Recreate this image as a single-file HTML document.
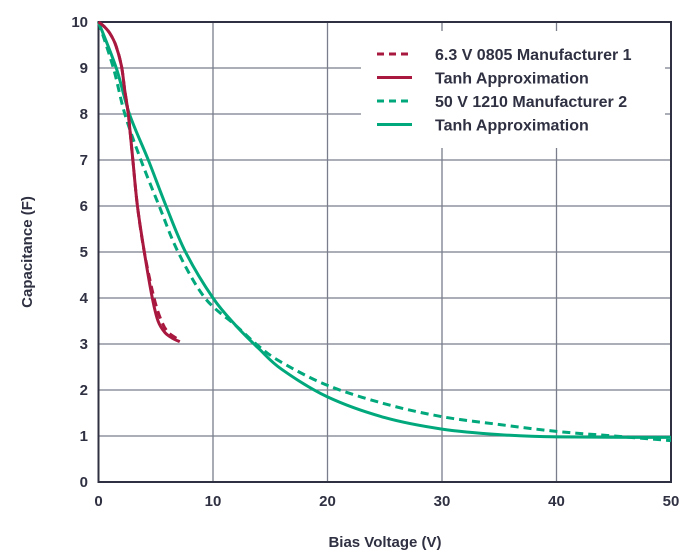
<!DOCTYPE html>
<html><head><meta charset="utf-8"><style>
body{margin:0;background:#fff;}
svg{display:block;font-family:"Liberation Sans",sans-serif;}
</style></head><body>
<svg id="c" width="691" height="558"></svg>
<script>
const xTicks=[0,10,20,30,40,50];
const yTicks=[0,1,2,3,4,5,6,7,8,9,10];
const red1X=[0,0.5,1,1.5,2,2.3,2.6,3,3.4,4,4.85,5.5,6.1,7.1];
const red1Y=[10,9.9,9.75,9.5,9.05,8.5,8,7,6,5,4,3.5,3.25,3.08];
const red2X=[0,0.5,1,1.5,2,2.3,2.6,3,3.4,4,4.7,5.2,5.8,6.5,7.1];
const red2Y=[10,9.9,9.75,9.5,9.05,8.5,8,7,6,5,4,3.5,3.25,3.12,3.05];
const grn1X=[0,1.3,2.3,3.7,5.3,6.95,9.3,12,14,16,20,25,30,35,40,45,50];
const grn1Y=[10,9,8,7,6,5,4,3.4,2.95,2.6,2.1,1.7,1.42,1.25,1.1,1.0,0.9];
const grn2X=[0,1.55,2.7,4.35,5.9,7.6,10,12,14,16,20,25,30,35,40,50];
const grn2Y=[10,9,8,7,6,5,4,3.4,2.9,2.45,1.85,1.4,1.15,1.03,0.98,0.97];
const X0=98.5,X1=671,Y0=482,Y1=22;
const sx=v=>X0+(X1-X0)*v/50, sy=v=>Y0-(Y0-Y1)*v/10;
const s=document.getElementById('c'),NS='http://www.w3.org/2000/svg';
function el(t,a,p){const e=document.createElementNS(NS,t);for(const k in a)e.setAttribute(k,a[k]);(p||s).appendChild(e);return e;}
for(const t of xTicks){const l=el('line',{x1:sx(t),x2:sx(t),y1:Y1,y2:Y0,stroke:'#7a7e8c','stroke-width':1.3});


const tx=el('text',{x:sx(t),y:506,'text-anchor':'middle','font-size':15,'font-weight':'bold',fill:'#2f3142'});tx.textContent=t;

}
for(const t of yTicks){const l=el('line',{x1:X0,x2:X1,y1:sy(t),y2:sy(t),stroke:'#7a7e8c','stroke-width':1.3});


const tx=el('text',{x:88,y:sy(t)+5,'text-anchor':'end','font-size':15,'font-weight':'bold',fill:'#2f3142'});tx.textContent=t;

}
const fr=el('rect',{x:X0,y:Y1,width:X1-X0,height:Y0-Y1,fill:'none',stroke:'#2f3142','stroke-width':2});


const lg=el('rect',{x:361,y:31,width:304,height:117,fill:'#fff'});


function smooth(pts){let d='M'+pts[0][0]+','+pts[0][1];
for(let i=0;i<pts.length-1;i++){const p0=pts[Math.max(0,i-1)],p1=pts[i],p2=pts[i+1],p3=pts[Math.min(pts.length-1,i+2)];
const c1=[p1[0]+(p2[0]-p0[0])/6,p1[1]+(p2[1]-p0[1])/6],c2=[p2[0]-(p3[0]-p1[0])/6,p2[1]-(p3[1]-p1[1])/6];
d+=' C'+c1.join(',')+' '+c2.join(',')+' '+p2.join(',');}return d;}
function line(xs,ys,c,d,n){const pts=xs.map((x,i)=>[sx(x),sy(ys[i])]);
const p=el('path',{d:smooth(pts),fill:'none',stroke:c,'stroke-width':3,'stroke-dasharray':d?'8,5':'none','stroke-linejoin':'round'});

}
line(grn1X,grn1Y,'#00a87c',true,'series-50v-1210');
line(grn2X,grn2Y,'#00a87c',false,'series-green-tanh');
line(red1X,red1Y,'#a8183f',true,'series-6v3-0805');
line(red2X,red2Y,'#a8183f',false,'series-red-tanh');
const leg=[['6.3 V 0805 Manufacturer 1','#a8183f',true],['Tanh Approximation','#a8183f',false],['50 V 1210 Manufacturer 2','#00a87c',true],['Tanh Approximation','#00a87c',false]];
leg.forEach((r,i)=>{const y=54+i*23.5;
const g=el('g',{});


el('line',{x1:377,x2:412,y1:y,y2:y,stroke:r[1],'stroke-width':3,'stroke-dasharray':r[2]?'7,5':'none'},g);
const t=el('text',{x:435,y:y+6,'font-size':16,'font-weight':'bold',fill:'#2f3142'},g);t.textContent=r[0];});
const xt=el('text',{x:385,y:547,'text-anchor':'middle','font-size':15,'font-weight':'bold',fill:'#2f3142'});xt.textContent='Bias Voltage (V)';


const yt=el('text',{x:0,y:0,'text-anchor':'middle','font-size':15,'font-weight':'bold',fill:'#2f3142',transform:'translate(32,252) rotate(-90)'});yt.textContent='Capacitance (F)';


</script>
</body></html>
